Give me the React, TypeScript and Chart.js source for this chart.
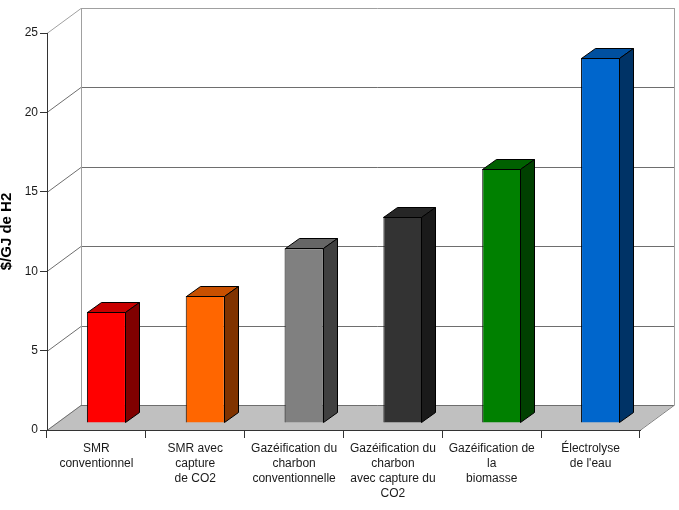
import { useEffect, useRef } from "react";
import { Chart, registerables } from "chart.js";

Chart.register(...registerables);

// Production routes (multi-line axis labels)
const categories: string[][] = [
  ["SMR", "conventionnel"],
  ["SMR avec", "capture", "de CO2"],
  ["Gazéification du", "charbon", "conventionnelle"],
  ["Gazéification du", "charbon", "avec capture du", "CO2"],
  ["Gazéification de", "la", "biomasse"],
  ["Électrolyse", "de l'eau"],
];

// Cost of hydrogen, $/GJ
const costs: number[] = [7, 8, 11, 13, 16, 23];

const yMin = 0;
const yMax = 25;
const yStep = 5;
const yTitle = "$/GJ de H2";

const frontColors = ["#ff0000", "#ff6600", "#808080", "#333333", "#008000", "#0066cc"];
const topColors = ["#c80000", "#c85000", "#666666", "#262626", "#006000", "#0050a0"];
const sideColors = ["#800000", "#803300", "#404040", "#1a1a1a", "#004000", "#003366"];

// Perspective offsets of the back wall and of the bars' depth
const WALL = { x: 34, y: -25 };
const BAR_OFFSET = { x: 10, y: -7 };
const BAR_DEPTH = { x: 14, y: -10 };

const crisp = (v: number) => Math.round(v) + 0.5;

const box3d = {
  id: "box3d",
  beforeDraw(chart: any) {
    const { ctx, chartArea: a, scales } = chart;
    const ys = scales.y;
    const L = a.left;
    const R = a.right;
    const B = a.bottom;
    const T = a.top;
    ctx.save();
    ctx.lineWidth = 1;

    // floor
    ctx.beginPath();
    ctx.moveTo(L, B);
    ctx.lineTo(R, B);
    ctx.lineTo(R + WALL.x, B + WALL.y);
    ctx.lineTo(L + WALL.x, B + WALL.y);
    ctx.closePath();
    ctx.fillStyle = "#c0c0c0";
    ctx.fill();

    // grid on side wall and back wall
    ys.ticks.forEach((t: any) => {
      const py = ys.getPixelForValue(t.value);
      ctx.strokeStyle = t.value === yMax ? "#a0a0a0" : "#6e6e6e";
      ctx.beginPath();
      ctx.moveTo(L, crisp(py));
      ctx.lineTo(L + WALL.x, crisp(py + WALL.y));
      ctx.lineTo(crisp(R + WALL.x), crisp(py + WALL.y));
      ctx.stroke();
    });

    // wall corner edges
    ctx.strokeStyle = "#a0a0a0";
    ctx.beginPath();
    ctx.moveTo(crisp(L + WALL.x), T + WALL.y);
    ctx.lineTo(crisp(L + WALL.x), B + WALL.y);
    ctx.moveTo(crisp(R + WALL.x), T + WALL.y);
    ctx.lineTo(crisp(R + WALL.x), B + WALL.y);
    ctx.stroke();

    // floor right edge
    ctx.strokeStyle = "#808080";
    ctx.beginPath();
    ctx.moveTo(R, crisp(B));
    ctx.lineTo(R + WALL.x, crisp(B + WALL.y));
    ctx.stroke();
    ctx.restore();
  },
  beforeDatasetsDraw(chart: any) {
    chart.ctx.save();
    chart.ctx.translate(BAR_OFFSET.x, BAR_OFFSET.y);
  },
  afterDatasetsDraw(chart: any) {
    const { ctx } = chart;
    ctx.restore();
    const meta = chart.getDatasetMeta(0);
    ctx.save();
    ctx.lineWidth = 1;
    ctx.strokeStyle = "#000";
    ctx.lineJoin = "round";
    meta.data.forEach((bar: any, i: number) => {
      const p = bar.getProps(["x", "y", "base", "width"], true);
      const l = Math.round(p.x - p.width / 2 + BAR_OFFSET.x) + 0.5;
      const r = Math.round(p.x + p.width / 2 + BAR_OFFSET.x) - 0.5;
      const top = Math.round(p.y + BAR_OFFSET.y) + 0.5;
      const bot = Math.round(p.base + BAR_OFFSET.y) - 0.5;
      const dx = BAR_DEPTH.x;
      const dy = BAR_DEPTH.y;
      // top face
      ctx.beginPath();
      ctx.moveTo(l, top);
      ctx.lineTo(r, top);
      ctx.lineTo(r + dx, top + dy);
      ctx.lineTo(l + dx, top + dy);
      ctx.closePath();
      ctx.fillStyle = topColors[i];
      ctx.fill();
      ctx.stroke();
      // side face
      ctx.beginPath();
      ctx.moveTo(r, top);
      ctx.lineTo(r + dx, top + dy);
      ctx.lineTo(r + dx, bot + dy);
      ctx.lineTo(r, bot);
      ctx.closePath();
      ctx.fillStyle = sideColors[i];
      ctx.fill();
      ctx.stroke();
    });
    ctx.restore();
  },
};

const FONT = "'Liberation Sans', Arial, Helvetica, sans-serif";

export default function App() {
  const canvasRef = useRef<HTMLCanvasElement | null>(null);

  useEffect(() => {
    const canvas = canvasRef.current;
    if (!canvas) return;
    const chart = new Chart(canvas, {
      type: "bar",
      data: {
        labels: categories,
        datasets: [
          {
            data: costs,
            backgroundColor: frontColors,
            borderColor: "#000",
            borderWidth: 1,
            categoryPercentage: 1,
            barPercentage: 0.395,
          },
        ],
      },
      options: {
        responsive: false,
        animation: false,
        events: [],
        layout: { padding: { top: 33, right: 39, left: 0, bottom: 0 } },
        plugins: {
          legend: { display: false },
          tooltip: { enabled: false },
        },
        scales: {
          x: {
            afterFit: (s: any) => {
              s.height = 80;
            },
            grid: {
              offset: true,
              drawOnChartArea: false,
              drawTicks: true,
              tickLength: 8,
              color: "#333",
            },
            border: { display: true, color: "#333", width: 1 },
            ticks: {
              color: "#1a1a1a",
              padding: 3,
              maxRotation: 0,
              autoSkip: false,
              font: { family: FONT, size: 12, lineHeight: 1.25 },
            },
          },
          y: {
            min: yMin,
            max: yMax,
            afterFit: (s: any) => {
              s.width = 47;
            },
            grid: {
              drawOnChartArea: false,
              drawTicks: true,
              tickLength: 7,
              color: "#333",
            },
            border: { display: true, color: "#333", width: 1 },
            ticks: {
              stepSize: yStep,
              color: "#1a1a1a",
              padding: 2,
              font: { family: FONT, size: 12 },
            },
            title: {
              display: true,
              text: yTitle,
              color: "#000",
              padding: 0,
              font: { family: FONT, size: 15, weight: "bold", lineHeight: 0.95 },
            },
          },
        },
      },
      plugins: [box3d],
    });
    return () => chart.destroy();
  }, []);

  return (
    <div style={{ position: "absolute", left: 0, top: 0, width: 679, height: 510, background: "#fff" }}>
      <canvas ref={canvasRef} width={679} height={510} style={{ display: "block" }} />
    </div>
  );
}
